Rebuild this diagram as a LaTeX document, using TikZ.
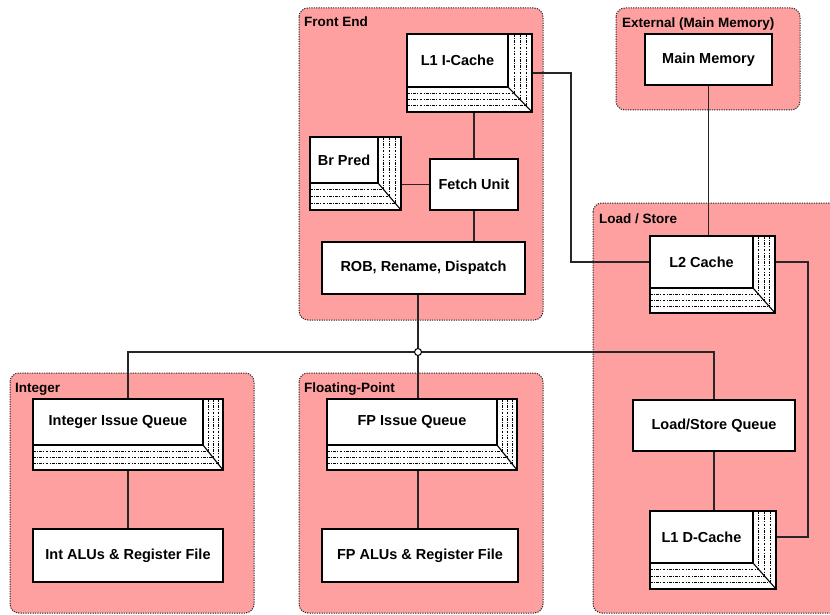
\documentclass[tikz,border=0pt]{standalone}
\usepackage{fontspec}
\setmainfont{Liberation Sans}
\usetikzlibrary{fit,calc}
\definecolor{pinkc}{RGB}{255,160,160}
\tikzset{
  cluster/.style={draw=black!85, fill=pinkc, line width=1pt, dash pattern=on 1.2pt off 1.2pt, rounded corners=9pt},
  clabel/.style={anchor=base west, inner sep=0pt, font=\fontsize{13.5}{15}\selectfont\bfseries},
  boxline/.style={draw=black, line width=1.1pt},
  outerbox/.style={boxline, fill=white, inner sep=0pt},
  facebox/.style={boxline, fill=white, inner sep=0pt},
  boxtext/.style={inner sep=0pt, font=\fontsize{14.5}{16}\selectfont\bfseries},
  strip/.style={draw=black, line width=0.8pt, dash pattern=on 2.6pt off 1.4pt on 0.9pt off 1.4pt},
  wire/.style={draw=black!85, line width=1.1pt},
}
\newcommand\threedbox[8]{%
  \node[outerbox, fit={(#2,#3)(#4,#5)}] (#1) {};
  \foreach \t in {0.25,0.5,0.75}{
    \draw[strip] ($(#6,#3)!\t!(#4,#3)$) -- ($(#6,#7)!\t!(#4,#5)$);
    \draw[strip] ($(#2,#7)!\t!(#2,#5)$) -- ($(#6,#7)!\t!(#4,#5)$);
  }
  \draw[boxline] (#6,#7) -- (#4,#5);
  \node[facebox, fit={(#2,#3)(#6,#7)}] (#1-face) {};
  \node[boxtext] (#1-text) at (#1-face.center) {#8};
}
\newcommand\plainbox[6]{%
  \node[facebox, fit={(#2,#3)(#4,#5)}] (#1) {};
  \node[boxtext] (#1-text) at (#1.center) {#6};
}
\begin{document}
\begin{tikzpicture}[x=1pt, y=-1pt]
\useasboundingbox (0,0) rectangle (830,615);
\clip (0,0) rectangle (830,615);
% clusters
\path[cluster] (299,8) rectangle (543,320);
\path[cluster] (616,8) rectangle (800,110);
\path[cluster] (593,203) rectangle (842,613);
\path[cluster] (10,373) rectangle (254,613);
\path[cluster] (299,373) rectangle (543,613);
\node[clabel] (lfe) at (304,27) {Front End};
\node[clabel] (lext) at (622,28) {External (Main Memory)};
\node[clabel] (lls) at (599,223) {Load / Store};
\node[clabel] (lint) at (15,392) {Integer};
\node[clabel] (lfp) at (304,392) {Floating-Point};
% nodes
\threedbox{l1i}{407}{34}{532}{112}{508}{87}{L1 I-Cache}
\plainbox{mm}{645}{34}{772}{85}{Main Memory}
\threedbox{brpred}{310}{137}{401}{210}{378}{183}{Br Pred}
\plainbox{fetch}{430}{159}{518}{210}{Fetch Unit}
\plainbox{rob}{322}{242}{525}{294}{ROB, Rename, Dispatch}
\threedbox{l2}{650}{236}{775}{313}{753}{288}{L2 Cache}
\threedbox{iiq}{33}{399}{223}{470}{203}{445}{Integer Issue Queue}
\threedbox{fpiq}{327}{399}{517}{470}{497}{445}{FP Issue Queue}
\plainbox{lsq}{633}{400}{795}{451}{Load/Store Queue}
\plainbox{intalu}{33}{529}{223}{582}{Int ALUs \& Register File}
\plainbox{fpalu}{322}{529}{518}{582}{FP ALUs \& Register File}
\threedbox{l1d}{650}{511}{776}{589}{753}{563}{L1 D-Cache}
% coordinates
\coordinate (cA) at (571,262);
\coordinate (cB) at (808,262);
\coordinate (cC) at (808,537);
\coordinate (junc) at (418,352);
% connectors
\draw[wire] (l1i.east) -| (cA) -- (l2-face.west);
\draw[wire] (mm.south) -- (mm.south |- l2.north);
\draw[wire] (fetch.north |- l1i.south) -- (fetch.north);
\draw[wire] (brpred.east |- fetch.west) -- (fetch.west);
\draw[wire] (fetch.south) -- (fetch.south |- rob.north);
\draw[wire] (junc |- rob.south) -- (junc);
\draw[wire] (junc) -| (iiq.north);
\draw[wire] (junc) -| (lsq.north);
\draw[wire] (junc) -- (junc |- fpiq.north);
\draw[wire] (l2.east |- l2-face.east) -- (cB) -- (cC) -- (l1d.east |- l1d-face.east);
\draw[wire] (iiq.south) -- (iiq.south |- intalu.north);
\draw[wire] (junc |- fpiq.south) -- (junc |- fpalu.north);
\draw[wire] (lsq.south) -- (lsq.south |- l1d.north);
\node[circle, draw=black, line width=1pt, fill=white, inner sep=0pt, minimum size=7pt] (jc) at (junc) {};
\end{tikzpicture}
\end{document}
